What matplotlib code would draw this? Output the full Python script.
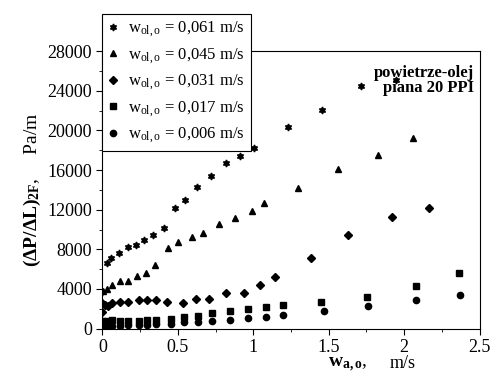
import matplotlib
matplotlib.use("Agg")
import matplotlib.pyplot as plt

plt.rcParams["font.family"] = ["Liberation Serif", "DejaVu Serif"]
plt.rcParams["mathtext.fontset"] = "custom"
plt.rcParams["mathtext.rm"] = "Liberation Serif"
plt.rcParams["mathtext.it"] = "Liberation Serif:italic"
plt.rcParams["mathtext.bf"] = "Liberation Serif:bold"

# w_ol,o = 0,061 m/s
x_061 = [0.0, 0.028, 0.056, 0.11, 0.167, 0.22, 0.277, 0.333, 0.408, 0.48, 0.547,
         0.625, 0.72, 0.817, 0.912, 1.007, 1.228, 1.458, 1.714, 1.944]
y_061 = [3670, 6640, 7150, 7680, 8190, 8420, 8900, 9430, 10110, 12130, 12970,
         14250, 15400, 16680, 17420, 18230, 20350, 22070, 24470, 25070]
# w_ol,o = 0,045 m/s
x_045 = [0.005, 0.028, 0.061, 0.116, 0.171, 0.231, 0.288, 0.348, 0.436, 0.503,
         0.591, 0.668, 0.773, 0.879, 0.989, 1.073, 1.298, 1.564, 1.825, 2.059]
y_045 = [3800, 4040, 4450, 4780, 4780, 5290, 5630, 6400, 8160, 8770,
         9270, 9670, 10510, 11190, 11830, 12710, 14150, 16110, 17560, 19280]
# w_ol,o = 0,031 m/s
x_031 = [0.0, 0.0, 0.018, 0.04, 0.061, 0.116, 0.171, 0.244, 0.297, 0.355, 0.43,
         0.536, 0.62, 0.704, 0.819, 0.938, 1.046, 1.144, 1.383, 1.63, 1.922, 2.167]
y_031 = [1650, 2600, 2430, 2260, 2600, 2700, 2700, 2930, 2930, 2930, 2660,
         2600, 3030, 3030, 3570, 3570, 4380, 5190, 7080, 9430, 11290, 12200]
# w_ol,o = 0,017 m/s
x_017 = [0.0, 0.032, 0.061, 0.116, 0.171, 0.244, 0.297, 0.355, 0.454, 0.542,
         0.635, 0.726, 0.845, 0.965, 1.082, 1.199, 1.449, 1.752, 2.079, 2.362]
y_017 = [810, 810, 910, 740, 740, 810, 910, 910, 1010, 1140,
         1310, 1580, 1820, 1990, 2220, 2390, 2700, 3170, 4280, 5630]
# w_ol,o = 0,006 m/s
x_006 = [0.0, 0.032, 0.061, 0.116, 0.171, 0.244, 0.297, 0.355, 0.454, 0.542,
         0.635, 0.726, 0.845, 0.965, 1.082, 1.199, 1.469, 1.758, 2.079, 2.371]
y_006 = [300, 300, 300, 300, 320, 350, 400, 500, 500, 640,
         680, 810, 910, 1030, 1200, 1330, 1790, 2330, 2860, 3440]

labels = ["0,061", "0,045", "0,031", "0,017", "0,006"]

fig = plt.figure(figsize=(4.9, 3.76), dpi=100)
ax = fig.add_axes([0.209, 0.126, 0.7696, 0.738])

star = (6, 1, 0)
ms = 5
ax.plot(x_061, y_061, ls="none", marker=star, ms=ms, color="black")
ax.plot(x_045, y_045, ls="none", marker="^", ms=ms, color="black")
ax.plot(x_031, y_031, ls="none", marker="D", ms=ms - 0.5, color="black")
ax.plot(x_017, y_017, ls="none", marker="s", ms=ms - 0.5, color="black")
ax.plot(x_006, y_006, ls="none", marker="o", ms=ms - 0.5, color="black")

for line, lab in zip(ax.lines, labels):
    line.set_label(r"w$_{\mathrm{ol,o}}$ = " + lab + " m/s")

ax.set_xlim(0, 2.5)
ax.set_ylim(0, 28000)
ax.set_xticks([0, 0.5, 1, 1.5, 2, 2.5])
ax.set_xticklabels(["0", "0.5", "1", "1.5", "2", "2.5"])
ax.set_xticks([0.25, 0.75, 1.25, 1.75, 2.25], minor=True)
ax.set_yticks(range(0, 28001, 4000))
ax.set_yticks(range(2000, 28000, 4000), minor=True)
ax.tick_params(which="both", direction="out", top=False, right=False, labelsize=13)
ax.tick_params(which="major", length=4)
ax.tick_params(which="minor", length=2.5)

ax.set_ylabel(r"$\mathbf{(\Delta P/\Delta L)}_{\mathbf{2F}}$,     Pa/m", fontsize=14, labelpad=3)
fig.text(328 / 490, 1 - 355 / 376, r"$\mathbf{w}_{\mathbf{a,o}}$,", fontsize=14,
         va="top", ha="left")
fig.text(390 / 490, 1 - 355 / 376, "m/s", fontsize=13, va="top", ha="left")

ax.text(0.985, 0.95, "powietrze-olej\npiana 20 PPI", transform=ax.transAxes,
        ha="right", va="top", fontsize=12, fontweight="bold", linespacing=0.95)

leg = ax.legend(loc="upper left", bbox_to_anchor=(0.0, 1.135), fontsize=12,
                frameon=True, fancybox=False, framealpha=1, edgecolor="black",
                handlelength=0.6, handletextpad=0.6, labelspacing=0.4,
                borderpad=0.35, borderaxespad=0.0)
leg.get_frame().set_linewidth(0.8)

fig.savefig("out.png", dpi=100)
